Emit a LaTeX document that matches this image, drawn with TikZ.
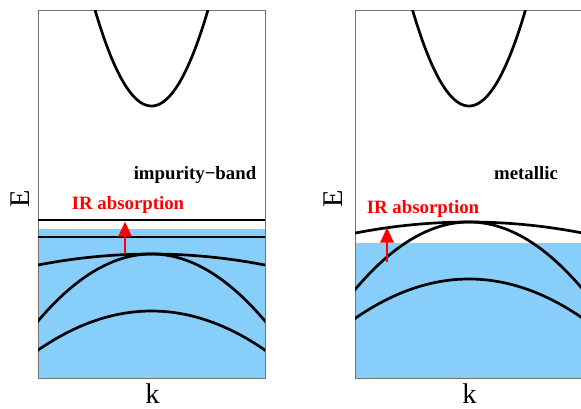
\documentclass[tikz,border=0pt]{standalone}
\usepackage{fontspec}
\setmainfont{Liberation Serif}
\usetikzlibrary{arrows.meta}
\definecolor{fillblue}{HTML}{87CEFA}
\begin{document}
\begin{tikzpicture}[x=1pt,y=-1pt,
  framebox/.style={draw=black!55, line width=0.9pt},
  band/.style={draw=black, line width=2.7pt},
  irarrow/.style={draw=red, line width=2.6pt, -{Triangle[length=15pt,width=13pt]}},
  lbl/.style={font=\fontsize{18.8}{20}\selectfont\bfseries, anchor=base, inner sep=0pt},
  axlbl/.style={font=\fontsize{28.5}{30}\selectfont, inner sep=0pt}
]
\useasboundingbox (0,0) rectangle (581,408);
\clip (0,0) rectangle (581,408);

% ---------- left panel: impurity band ----------
\fill[fillblue] (38,229) rectangle (265,378);
\draw[framebox] (38,10) rectangle (265,378);
\begin{scope}
  \clip (38,10) rectangle (265,378);
  \draw[band] plot[domain=93:210, samples=80] (\x,{106-0.0301*(\x-151.5)^2});
  \draw[band] plot[domain=36:267, samples=80] (\x,{254+0.000854*(\x-151.5)^2});
  \draw[band] plot[domain=36:267, samples=80] (\x,{254+0.0052*(\x-151.5)^2});
  \draw[band] plot[domain=36:267, samples=80] (\x,{311+0.00303*(\x-151.5)^2});
  \coordinate (lil) at (36,220); \coordinate (lir) at (267,220);
  \coordinate (ltl) at (36,237); \coordinate (ltr) at (267,237);
  \draw[band] (lil) -- (lir);
  \draw[band] (ltl) -- (ltr);
\end{scope}
\coordinate (la1) at (125,254);
\coordinate (la2) at (125,221.5);
\draw[irarrow] (la1) -- (la2);
\node[lbl] (limp) at (195,179.5) {impurity−band};
\node[lbl, text=red] (lir) at (128,209) {IR absorption};
\node[axlbl, rotate=90] (lE) at (20,199) {E};
\node[axlbl, anchor=base] (lk) at (152.5,403) {k};

% ---------- right panel: metallic ----------
\fill[fillblue] (355,243) rectangle (582,378);
\draw[framebox] (355,10) rectangle (582,378);
\begin{scope}
  \clip (355,10) rectangle (582,378);
  \draw[band] plot[domain=410:528, samples=80] (\x,{106-0.0301*(\x-469)^2});
  \draw[band] plot[domain=353:584, samples=80] (\x,{222+0.000854*(\x-469)^2});
  \draw[band] plot[domain=353:584, samples=80] (\x,{222+0.0052*(\x-469)^2});
  \draw[band] plot[domain=353:584, samples=80] (\x,{279+0.00303*(\x-469)^2});
\end{scope}
\coordinate (ra1) at (387,262);
\coordinate (ra2) at (387,227.5);
\draw[irarrow] (ra1) -- (ra2);
\node[lbl] (rmet) at (526,179.5) {metallic};
\node[lbl, text=red] (rir) at (423,213.5) {IR absorption};
\node[axlbl, rotate=90] (rE) at (333,199) {E};
\node[axlbl, anchor=base] (rk) at (469.5,403) {k};
\end{tikzpicture}
\end{document}
